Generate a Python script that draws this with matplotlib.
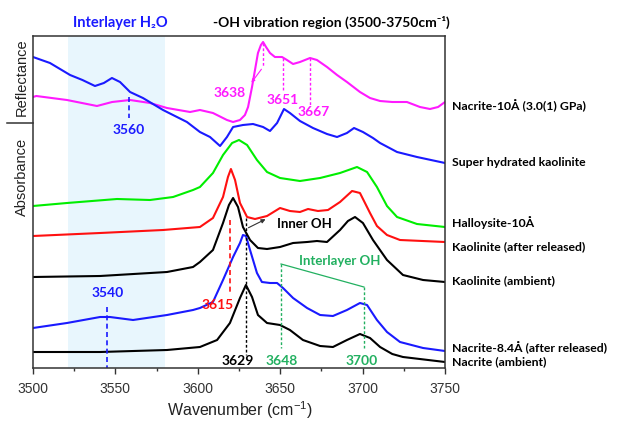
import matplotlib
matplotlib.use("Agg")
import matplotlib.pyplot as plt
from matplotlib.lines import Line2D

plt.rcParams["mathtext.fontset"] = "custom"
plt.rcParams["mathtext.rm"] = "Liberation Sans"
plt.rcParams["mathtext.it"] = "Liberation Sans:italic"

# ---- spectra (wavenumber in cm-1, intensity in arbitrary offset units) ----
refl_wn = [3500, 3502, 3520.6, 3538.8, 3548, 3558.9, 3571, 3581.3, 3595.3, 3601.3,
           3609.2, 3617.7, 3621.4, 3625.6, 3628.6, 3630.5, 3632.9, 3634.7, 3636.5, 3638.3,
           3639.6, 3641.4, 3643.8, 3646.8, 3651.1, 3654.1, 3657.8, 3662, 3668.1, 3672.3,
           3678.4, 3684.5, 3690.5, 3698.4, 3704.5, 3710.6, 3718, 3726.9, 3734.8, 3740.9,
           3745.8, 3750]
refl_int = [271, 272, 268, 262, 266, 268, 265, 260, 256, 258,
            255, 248, 246, 248, 253, 261, 281, 298, 315, 323,
            326, 321, 315, 311, 311, 308, 304, 306, 310, 308,
            301, 293, 286, 276, 270, 267, 266, 266, 261, 259,
            261, 266]

shk_wn = [3500, 3510.3, 3522.5, 3530, 3537.6, 3543, 3547.9, 3552.8, 3558.9, 3566.7,
          3578.9, 3593.4, 3601.3, 3607.4, 3613.5, 3617.7, 3621.4, 3627.4, 3633.5, 3639.6,
          3643.8, 3648.1, 3652.3, 3655.9, 3662, 3669.9, 3678.4, 3684.5, 3690.5, 3694.8,
          3700.2, 3706.3, 3710.6, 3720.9, 3733, 3750]
shk_int = [311, 305, 293, 288, 282, 285, 290, 286, 276, 270,
           258, 246, 236, 231, 222, 231, 241, 243, 244, 241,
           237, 245, 259, 255, 247, 240, 234, 231, 235, 240,
           236, 230, 225, 216, 211, 205]

hal_wn = [3500, 3520.6, 3551, 3571, 3585, 3597.1, 3601.3, 3609.2, 3615.3, 3620.8,
          3625, 3629.9, 3635.9, 3642, 3649.9, 3662, 3674.2, 3686.3, 3696.6, 3702.7,
          3708.7, 3714.8, 3720.9, 3733, 3750]
hal_int = [162, 165, 169, 168, 171, 178, 181, 195, 213, 225,
           228, 223, 208, 196, 190, 187, 190, 195, 201, 196,
           181, 162, 151, 144, 141]

kao_rel_wn = [3500, 3540.7, 3578.9, 3601.3, 3609.2, 3615.3, 3618.3, 3620.1, 3622.6, 3625.6,
              3629.9, 3634.7, 3642, 3649.9, 3655.9, 3662, 3666.9, 3672.9, 3679, 3686.3,
              3693.6, 3698.4, 3704.5, 3708.7, 3714.8, 3722.7, 3750]
kao_rel_int = [132, 135, 138, 141, 150, 171, 191, 199, 188, 165,
               151, 149, 152, 160, 157, 156, 159, 157, 158, 166,
               177, 175, 155, 142, 133, 128, 126]

kao_amb_wn = [3500, 3540.7, 3581.3, 3597.1, 3601.3, 3609.2, 3615.3, 3618.9, 3621.4, 3624.4,
              3627.4, 3631.7, 3636.5, 3642, 3649.9, 3657.8, 3666.3, 3672.3, 3678.4, 3686.3,
              3691.1, 3695.4, 3700.2, 3706.3, 3714.8, 3724.5, 3736.7, 3750]
kao_amb_int = [91, 92, 96, 101, 106, 118, 145, 163, 170, 161,
               141, 128, 120, 119, 121, 125, 126, 127, 126, 138,
               147, 151, 145, 128, 108, 93, 88, 86]

nac84_wn = [3500, 3520.6, 3540.7, 3546.7, 3560.7, 3581.3, 3597.1, 3601.3, 3609.2, 3615.3,
            3621.4, 3625.6, 3627.4, 3629.2, 3631.7, 3635.9, 3638.9, 3643.8, 3648.1, 3651.7,
            3657.8, 3666.3, 3674.2, 3682, 3690.5, 3698.4, 3702.7, 3708.7, 3714.8, 3722.7,
            3736.7, 3750]
nac84_int = [40, 45, 51, 51, 48, 53, 58, 60, 66, 88,
             111, 125, 133, 132, 118, 95, 86, 85, 85, 80,
             70, 60, 53, 52, 58, 65, 63, 48, 36, 26,
             20, 17]

nac_wn = [3500, 3540.7, 3581.3, 3601.3, 3611.7, 3619.5, 3625.6, 3629.2, 3632.9, 3636.5,
          3642, 3649.9, 3655.9, 3663.8, 3674.2, 3682, 3690.5, 3698.4, 3704.5, 3710.6,
          3718, 3724.5, 3750]
nac_int = [16, 16, 18, 21, 28, 45, 70, 83, 71, 53,
           45, 43, 38, 28, 22, 21, 28, 34, 30, 21,
           14, 11, 6]

series_labels = ["Nacrite-10Å (3.0(1) GPa)", "Super hydrated kaolinite", "Halloysite-10Å",
                 "Kaolinite (after released)", "Kaolinite (ambient)",
                 "Nacrite-8.4Å (after released)", "Nacrite (ambient)"]

xticks = [3500, 3550, 3600, 3650, 3700, 3750]

MAG = "#ff1aff"
BLUE = "#1a1aff"
GREEN = "#00ee00"
DGREEN = "#22b060"
RED = "#ff1010"

fig = plt.figure(figsize=(6.18, 4.22), dpi=100)
ax = fig.add_axes([33 / 618, 1 - 368 / 422, 412 / 618, 332 / 422])

# interlayer water window
ax.axvspan(3521, 3580, color="#e8f6fd", zorder=0, lw=0)

lw = 1.5
curve_kw = dict(lw=lw, solid_joinstyle="round", solid_capstyle="round")
ax.plot(refl_wn, refl_int, color=MAG, **curve_kw)
ax.plot(shk_wn, shk_int, color=BLUE, **curve_kw)
ax.plot(hal_wn, hal_int, color=GREEN, **curve_kw)
ax.plot(kao_rel_wn, kao_rel_int, color=RED, **curve_kw)
ax.plot(kao_amb_wn, kao_amb_int, color="black", **curve_kw)
ax.plot(nac84_wn, nac84_int, color=BLUE, **curve_kw)
ax.plot(nac_wn, nac_int, color="black", **curve_kw)

ax.set_xlim(3500, 3750)
ax.set_ylim(0, 332)
ax.set_xticks(xticks)
ax.set_xticks([3525, 3575, 3625, 3675, 3725], minor=True)
ax.set_yticks([])
ax.tick_params(axis="x", which="major", direction="out", length=4, width=1, pad=6,
               labelsize=10, colors="#333333")
ax.tick_params(axis="x", which="minor", direction="out", length=2.5, width=1, colors="#333333")
for lab in ax.get_xticklabels():
    lab.set_family("Liberation Sans")
for sp in ax.spines.values():
    sp.set_color("#333333")
    sp.set_linewidth(1.1)
fig.text(240 / 618, 1 - 410 / 422, "Wavenumber (cm$^{-1}$)", fontsize=11.5,
         family="Liberation Sans", ha="center", va="center", color="#222222")

bold = dict(family=["Lato", "DejaVu Sans"], fontweight="bold")
dash = dict(lw=1.2, linestyle=(0, (3, 2)))
dot = dict(lw=1.0, linestyle=(0, (2, 1.5)))

# blue water bands
ax.plot([3558.3, 3558.3], [271, 250], color=BLUE, **dash)
ax.text(3558.3, 238, "3560", color=BLUE, ha="center", va="center", fontsize=10, **bold)
ax.plot([3545, 3545], [61, 0], color=BLUE, **dash)
ax.text(3545.5, 75, "3540", color=BLUE, ha="center", va="center", fontsize=10, **bold)

# magenta reflectance peaks
ax.plot([3639.6, 3639.6], [325, 301], color=MAG, **dot)
ax.annotate("", xy=(3631.5, 283), xytext=(3639.6, 301),
            arrowprops=dict(arrowstyle="-|>", color=MAG, lw=0.8, mutation_scale=5))
ax.text(3619.5, 275, "3638", color=MAG, ha="center", va="center", fontsize=10, **bold)
ax.plot([3651.7, 3651.7], [310, 278], color=MAG, **dot)
ax.text(3651.7, 268, "3651", color=MAG, ha="center", va="center", fontsize=10, **bold)
ax.plot([3668.1, 3668.1], [310, 263], color=MAG, **dot)
ax.text(3670, 256, "3667", color=MAG, ha="center", va="center", fontsize=10, **bold)

# inner OH
ax.plot([3619.5, 3619.5], [148, 76], color=RED, **dash)
ax.text(3612, 63, "3615", color=RED, ha="center", va="center", fontsize=10, **bold)
ax.plot([3629.2, 3629.2], [150, 13], color="black", **dot)
ax.text(3624, 7, "3629", color="black", ha="center", va="center", fontsize=10, **bold)
ax.annotate("", xy=(3642.6, 150), xytext=(3629.2, 139),
            arrowprops=dict(arrowstyle="-|>", color="#333333", lw=0.8, mutation_scale=6))
ax.text(3648, 144, "Inner OH", color="black", ha="left", va="center", fontsize=9.5, **bold)

# interlayer OH
ax.plot([3650.5, 3650.5], [104, 20], color=DGREEN, **dot)
ax.plot([3700.8, 3700.8], [81, 20], color=DGREEN, **dot)
ax.plot([3650.5, 3700.8], [104, 81], color=DGREEN, lw=0.9)
ax.text(3651, 7, "3648", color=DGREEN, ha="center", va="center", fontsize=10, **bold)
ax.text(3699.6, 7, "3700", color=DGREEN, ha="center", va="center", fontsize=10, **bold)
ax.text(3686, 107, "Interlayer OH", color=DGREEN, ha="center", va="center", fontsize=9.5, **bold)

# titles above the axes
fig.text(120 / 618, 1 - 23 / 422, "Interlayer H₂O", color=BLUE, ha="center", va="center",
         fontsize=10.5, **bold)
fig.text(331 / 618, 1 - 22 / 422, "-OH vibration region (3500-3750cm⁻¹)", color="black",
         ha="center", va="center", fontsize=10, **bold)

# curve labels on the right
label_y = [106, 163, 223, 247, 281, 348, 361.5]
for txt, yp in zip(series_labels, label_y):
    fig.text(452 / 618, 1 - yp / 422, txt, ha="left", va="center", fontsize=8.8, **bold)

# left side titles and separator
fig.text(22 / 618, 1 - 77 / 422, "Reflectance", rotation=90, ha="center", va="center",
         fontsize=10.5, family="Liberation Sans", color="#222222")
fig.text(22 / 618, 1 - 177 / 422, "Absorbance", rotation=90, ha="center", va="center",
         fontsize=10.5, family="Liberation Sans", color="#222222")
fig.add_artist(Line2D([7 / 618, 33 / 618], [1 - 123 / 422, 1 - 123 / 422], color="#333333", lw=1.1))

fig.savefig("out.png", dpi=100)
